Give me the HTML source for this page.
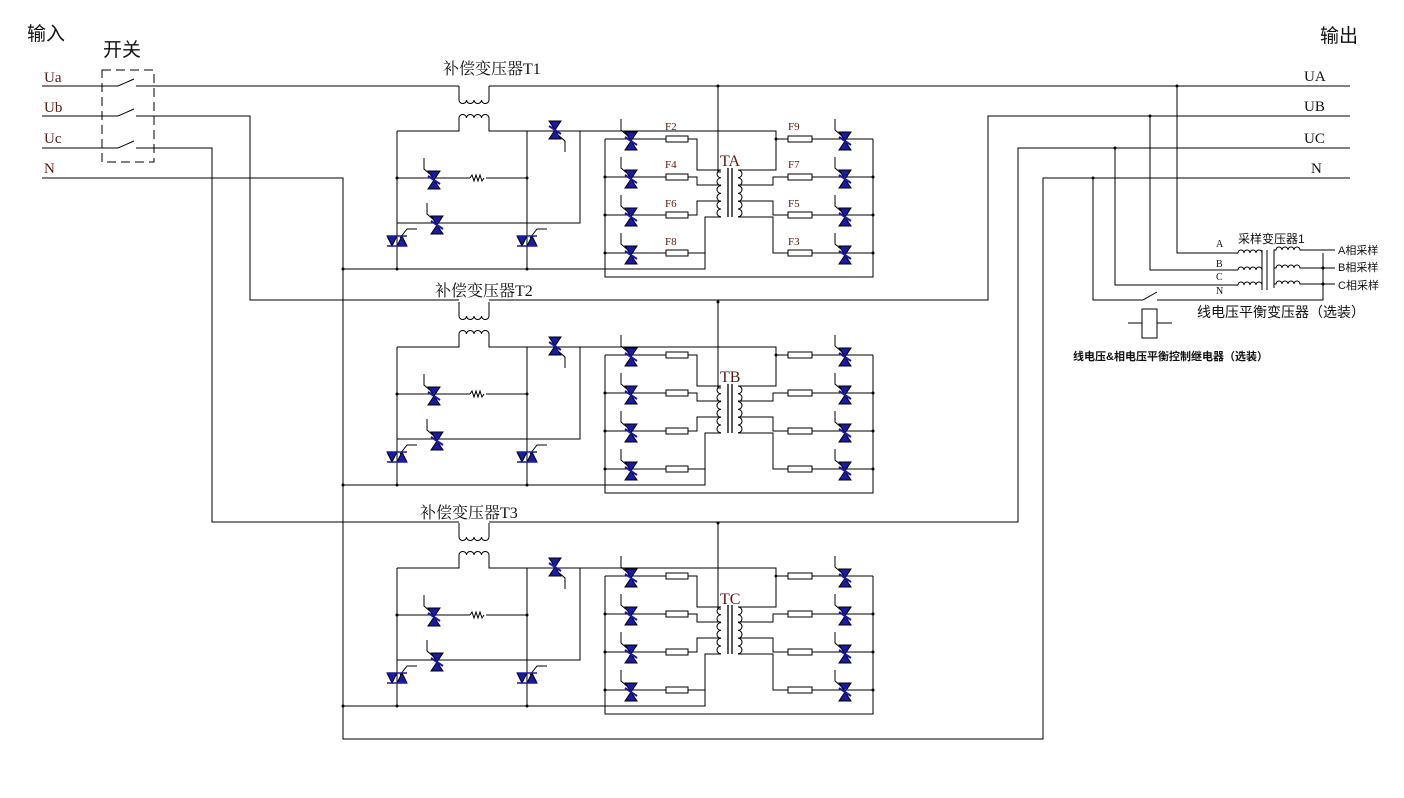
<!DOCTYPE html>
<html><head><meta charset="utf-8"><style>
html,body{margin:0;padding:0;background:#fff;}
svg{display:block;}
text{font-family:"Liberation Serif","Noto Serif CJK SC","Noto Sans CJK SC",serif;fill:#111;}
.cn{font-family:"Liberation Sans","Noto Sans CJK SC",sans-serif;}
.br{fill:#5a1a10;}
</style></head><body>
<svg width="1404" height="798" viewBox="0 0 1404 798" xmlns="http://www.w3.org/2000/svg">
<defs>
<g id="tv">
 <path d="M-10,-20 V-9 L-3,-3" fill="none" stroke="#000" stroke-width="1"/>
 <polygon points="-6,-7 6,-7 0,2" fill="#1a1aa8"/>
 <polygon points="-6,11 6,11 0,2" fill="#1a1aa8"/>
 <line x1="-6" y1="-2" x2="6" y2="6" stroke="#1a1aa8" stroke-width="2"/>
</g>
<g id="th">
 <path d="M3,-3 L10,-12 H20" fill="none" stroke="#000" stroke-width="1"/>
 <polygon points="-10,-5 0,-5 -5,5" fill="#1a1aa8"/>
 <polygon points="0,5 10,5 5,-5" fill="#1a1aa8"/>
 <line x1="-10" y1="-5" x2="10" y2="-5" stroke="#1a1aa8" stroke-width="1.5"/>
 <line x1="-10" y1="5" x2="10" y2="5" stroke="#1a1aa8" stroke-width="1.5"/>
</g>
<g id="mod" fill="none" stroke="#000" stroke-width="1">
 <path d="M459,86 V100 a3.75,3.5 0 0 0 7.5,0 a3.75,3.5 0 0 0 7.5,0 a3.75,3.5 0 0 0 7.5,0 a3.75,3.5 0 0 0 7.5,0 V86"/>
 <path d="M397,131 H459 V118 a3.75,3.5 0 0 1 7.5,0 a3.75,3.5 0 0 1 7.5,0 a3.75,3.5 0 0 1 7.5,0 a3.75,3.5 0 0 1 7.5,0 V131 H776 V170 H738"/>
 <path d="M397,131 V269 M527,131 V269 M580,131 V223 H397 M397,178 H470 M486,178 H527 M343,269 H705 V217 H721"/>
 <path d="M470,178 l2,-3 l2,6 l2,-6 l2,6 l2,-6 l2,6 l2,-3"/>
 <path d="M605,139 H666 M605,177 H666 M605,215 H666 M605,253 H666"/>
 <path d="M688,139 H697 V170 H721 M688,177 H697 V185 H721 M688,215 H697 V201 H721 M688,253 H705"/>
 <rect x="666" y="136" width="22" height="6"/><rect x="666" y="174" width="22" height="6"/>
 <rect x="666" y="212" width="22" height="6"/><rect x="666" y="250" width="22" height="6"/>
 <path d="M718,86 V172 H721"/>
 <path d="M721,170 a4,3.9 0 0 0 0,7.8 a4,3.9 0 0 0 0,7.8 a4,3.9 0 0 0 0,7.8 a4,3.9 0 0 0 0,7.8 a4,3.9 0 0 0 0,7.8 a4,3.9 0 0 0 0,7.8"/>
 <path d="M738,170 a4,3.9 0 0 1 0,7.8 a4,3.9 0 0 1 0,7.8 a4,3.9 0 0 1 0,7.8 a4,3.9 0 0 1 0,7.8 a4,3.9 0 0 1 0,7.8 a4,3.9 0 0 1 0,7.8"/>
 <path d="M728,168 V217 M732,168 V217" stroke-width="1.3"/>
 <path d="M776,139 H788 M738,185 H773 V177 H788 M738,201 H773 V215 H788 M738,217 H773 V253 H788"/>
 <path d="M812,139 H873 M812,177 H873 M812,215 H873 M812,253 H873"/>
 <rect x="788" y="136" width="24" height="6"/><rect x="788" y="174" width="24" height="6"/>
 <rect x="788" y="212" width="24" height="6"/><rect x="788" y="250" width="24" height="6"/>
 <path d="M605,139 V277 H873 V139"/>
 <g fill="#000" stroke="none">
  <circle cx="605" cy="177" r="1.5"/><circle cx="605" cy="215" r="1.5"/><circle cx="605" cy="253" r="1.5"/>
  <circle cx="873" cy="177" r="1.5"/><circle cx="873" cy="215" r="1.5"/><circle cx="873" cy="253" r="1.5"/>
  <circle cx="776" cy="139" r="1.5"/><circle cx="718" cy="86" r="1.5"/>
  <circle cx="397" cy="178" r="1.5"/><circle cx="527" cy="178" r="1.5"/><circle cx="397" cy="269" r="1.5"/><circle cx="527" cy="269" r="1.5"/><circle cx="343" cy="269" r="1.5"/>
 </g>
 <use href="#tv" x="631" y="139"/><use href="#tv" x="631" y="177"/><use href="#tv" x="631" y="215"/><use href="#tv" x="631" y="253"/>
 <use href="#tv" x="845" y="139"/><use href="#tv" x="845" y="177"/><use href="#tv" x="845" y="215"/><use href="#tv" x="845" y="253"/>
 <use href="#tv" x="434" y="178"/><use href="#tv" x="437" y="223"/>
 <g transform="translate(555,132) scale(-1,-1)"><use href="#tv"/></g>
 <use href="#th" x="397" y="241"/><use href="#th" x="527" y="241"/>
</g>
</defs>

<use href="#mod"/>
<use href="#mod" y="216"/>
<use href="#mod" y="437"/>

<g fill="none" stroke="#000" stroke-width="1">
 <path d="M42,86 H118 M136,86 H459 M489,86 H1350"/>
 <path d="M42,116 H118 M136,116 H250 V300 H459 M489,300 H988 V116 H1350"/>
 <path d="M42,148 H118 M136,148 H212 V522 H459 M489,522 H1018 V148 H1350"/>
 <path d="M42,178 H343 V739 H1043 V178 H1350"/>
 <path d="M118,86 l16,-7 M118,116 l16,-7 M118,148 l16,-7"/>
 <rect x="102" y="70" width="52" height="92" stroke-dasharray="9,5"/>
 <path d="M1177,86 V253 H1238 M1150,116 V270 H1238 M1115,148 V285 H1238 M1093,178 V300 H1143 M1157,300 H1323 V253"/>
 <path d="M1143,300 l14,-8"/>
 <path d="M1238,253 a3,3 0 0 1 6,0 a3,3 0 0 1 6,0 a3,3 0 0 1 6,0 a3,3 0 0 1 6,0"/>
 <path d="M1238,270 a3,3 0 0 1 6,0 a3,3 0 0 1 6,0 a3,3 0 0 1 6,0 a3,3 0 0 1 6,0"/>
 <path d="M1238,285 a3,3 0 0 1 6,0 a3,3 0 0 1 6,0 a3,3 0 0 1 6,0 a3,3 0 0 1 6,0"/>
 <path d="M1262,250 V290 M1267,250 V290"/>
 <path d="M1274,288 V250 H1276 a3,3 0 0 1 6,0 a3,3 0 0 1 6,0 a3,3 0 0 1 6,0 a3,3 0 0 1 6,0 H1335"/>
 <path d="M1274,268 H1276 a3,3 0 0 1 6,0 a3,3 0 0 1 6,0 a3,3 0 0 1 6,0 a3,3 0 0 1 6,0 H1335"/>
 <path d="M1274,284 H1276 a3,3 0 0 1 6,0 a3,3 0 0 1 6,0 a3,3 0 0 1 6,0 a3,3 0 0 1 6,0 H1335"/>
 <rect x="1142" y="309" width="15" height="29"/>
 <path d="M1128,323 H1142 M1157,323 H1172"/>
</g>
<g fill="#000">
 <circle cx="1177" cy="86" r="1.5"/><circle cx="1150" cy="116" r="1.5"/><circle cx="1115" cy="148" r="1.5"/><circle cx="1093" cy="178" r="1.5"/>
 <circle cx="1323" cy="268" r="1.5"/><circle cx="1323" cy="284" r="1.5"/>
</g>

<text class="cn" x="27" y="40" font-size="19">输入</text>
<text class="cn" x="103" y="56" font-size="19">开关</text>
<text class="cn" x="1320" y="42" font-size="19">输出</text>
<text class="br" x="44" y="82" font-size="15">Ua</text>
<text class="br" x="44" y="112" font-size="15">Ub</text>
<text class="br" x="44" y="143" font-size="15">Uc</text>
<text class="br" x="44" y="173" font-size="15">N</text>
<text x="1304" y="81" font-size="15">UA</text>
<text x="1304" y="111" font-size="15">UB</text>
<text x="1304" y="143" font-size="15">UC</text>
<text x="1311" y="173" font-size="15">N</text>
<text x="443" y="74" font-size="16">补偿变压器T1</text>
<text x="435" y="296" font-size="16">补偿变压器T2</text>
<text x="420" y="518" font-size="16">补偿变压器T3</text>
<text class="br" x="720" y="166" font-size="16">TA</text>
<text class="br" x="720" y="382" font-size="16">TB</text>
<text class="br" x="720" y="604" font-size="16">TC</text>
<g font-size="11">
 <text class="br" x="665" y="130">F2</text><text class="br" x="665" y="168">F4</text>
 <text class="br" x="665" y="207">F6</text><text class="br" x="665" y="245">F8</text>
 <text class="br" x="788" y="130">F9</text><text class="br" x="788" y="168">F7</text>
 <text class="br" x="788" y="207">F5</text><text class="br" x="788" y="245">F3</text>
</g>
<g font-size="10">
 <text x="1216" y="247">A</text><text x="1216" y="267">B</text><text x="1216" y="280">C</text><text x="1216" y="294">N</text>
</g>
<text class="cn" x="1238" y="243" font-size="12">采样变压器1</text>
<text class="cn" x="1338" y="254" font-size="11">A相采样</text>
<text class="cn" x="1338" y="271" font-size="11">B相采样</text>
<text class="cn" x="1338" y="289" font-size="11">C相采样</text>
<text class="cn" x="1197" y="317" font-size="14">线电压平衡变压器（选装）</text>
<text class="cn" x="1073" y="360" font-size="11" font-weight="bold">线电压&amp;相电压平衡控制继电器（选装）</text>
</svg>
</body></html>
